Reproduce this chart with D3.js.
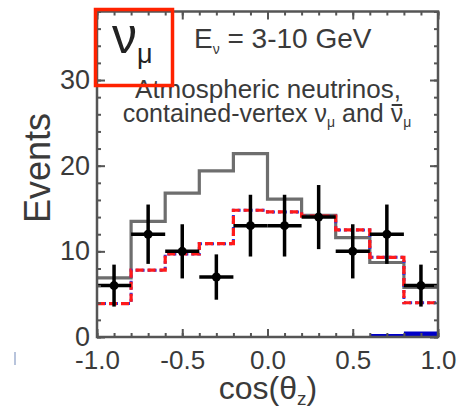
<!DOCTYPE html>
<html><head><meta charset="utf-8">
<script src="https://cdn.jsdelivr.net/npm/d3@7"></script>
<style>
html,body{margin:0;padding:0;background:#fff;}
svg{display:block;font-family:"Liberation Sans",Arial,sans-serif;}
</style></head>
<body>
<svg id="c" width="469" height="408"></svg>
<script>
// ---- data ----
const binEdges = [-1.0,-0.8,-0.6,-0.4,-0.2,0.0,0.2,0.4,0.6,0.8,1.0];
const noOsc   = [6.9,13.5,16.8,19.4,21.4,16.1,14.2,11.6,8.7,5.8];   // grey
const oscRed  = [3.9,7.8,9.7,10.9,14.8,14.6,14.1,12.5,9.3,4.0];     // red dashed
const oscBlue = [3.9,7.8,9.7,10.9,14.8,14.6,14.1,12.5,9.3,4.0];     // blue dotted
const background = [0,0,0,0,0,0,0.1,0.1,0.35,0.65];                // blue fill
const dataCounts = [6,12,10,7,13,13,14,10,12,6];
const xTickValues = [-1.0,-0.5,0.0,0.5,1.0];
const xTickLabels = ["-1.0","-0.5","0.0","0.5","1.0"];
const yTickValues = [0,10,20,30];
const yTickLabels = ["0","10","20","30"];

const svg = d3.select("#c");
const x = d3.scaleLinear().domain([-1,1]).range([97,438]);
const y = d3.scaleLinear().domain([0,38]).range([337,11.5]);
const txt = "#3a3a3a";
const frameCol = "#555";

const centers = binEdges.slice(0,-1).map((e,i)=>(e+binEdges[i+1])/2);
function stepPts(vals){ const p = vals.map((v,i)=>[binEdges[i],v]); p.push([binEdges[binEdges.length-1],vals[vals.length-1]]); return p; }
const step = d3.line().x(d=>x(d[0])).y(d=>y(d[1])).curve(d3.curveStepAfter);

// background area
const area = d3.area().x(d=>x(d[0])).y0(y(0)).y1(d=>y(d[1])).curve(d3.curveStepAfter);
svg.append("path").attr("d",area(stepPts(background))).attr("fill","#0000c8");

// grey histogram
svg.append("path").attr("d",step(stepPts(noOsc))).attr("fill","none")
  .attr("stroke","#6e6e6e").attr("stroke-width",3.2);
// blue
svg.append("path").attr("d",step(stepPts(oscBlue))).attr("fill","none")
  .attr("stroke","#3030e0").attr("stroke-width",3).attr("stroke-dasharray","3,3");
// red dashed
svg.append("path").attr("d",step(stepPts(oscRed))).attr("fill","none")
  .attr("stroke","#ff1a1a").attr("stroke-width",3.2).attr("stroke-dasharray","8,4");

// data points
const g = svg.append("g");
dataCounts.forEach((n,i)=>{
  const e = Math.sqrt(n);
  g.append("line").attr("x1",x(binEdges[i])).attr("x2",x(binEdges[i+1]))
    .attr("y1",y(n)).attr("y2",y(n)).attr("stroke","#000").attr("stroke-width",3.5);
  g.append("line").attr("x1",x(centers[i])).attr("x2",x(centers[i]))
    .attr("y1",y(n-e)).attr("y2",y(n+e)).attr("stroke","#000").attr("stroke-width",3.5);
  g.append("circle").attr("cx",x(centers[i])).attr("cy",y(n)).attr("r",4.5).attr("fill","#000");
});

// axes (inward ticks)
function styleAxis(sel){
  sel.select(".domain").remove();
  sel.selectAll(".tick line").attr("stroke",frameCol).attr("stroke-width",2);
  sel.selectAll(".tick text").attr("fill",txt).style("font-family","'Liberation Sans',Arial,sans-serif");
}
const minorX = d3.range(-1,1.0001,0.1).map(v=>Math.round(v*10)/10);
const minorY = d3.range(0,38.0001,2);

svg.append("g").attr("transform",`translate(0,${y(0)})`)
  .call(d3.axisBottom(x).tickValues(minorX).tickSize(-4).tickFormat("")).call(styleAxis);
svg.append("g").attr("transform",`translate(0,${y(0)})`)
  .call(d3.axisBottom(x).tickValues(xTickValues).tickSize(-8).tickPadding(14)
    .tickFormat((d,i)=>xTickLabels[i])).call(styleAxis)
  .selectAll("text").style("font-size","26px");
svg.append("g").attr("transform",`translate(0,${y(38)})`)
  .call(d3.axisTop(x).tickValues(minorX).tickSize(-4).tickFormat("")).call(styleAxis);
svg.append("g").attr("transform",`translate(0,${y(38)})`)
  .call(d3.axisTop(x).tickValues(xTickValues).tickSize(-8).tickFormat("")).call(styleAxis);

svg.append("g").attr("transform",`translate(${x(-1)},0)`)
  .call(d3.axisLeft(y).tickValues(minorY).tickSize(-4).tickFormat("")).call(styleAxis);
svg.append("g").attr("transform",`translate(${x(-1)},0)`)
  .call(d3.axisLeft(y).tickValues(yTickValues).tickSize(-8).tickPadding(7)
    .tickFormat((d,i)=>yTickLabels[i])).call(styleAxis)
  .selectAll("text").style("font-size","27px");
svg.append("g").attr("transform",`translate(${x(1)},0)`)
  .call(d3.axisRight(y).tickValues(minorY).tickSize(-4).tickFormat("")).call(styleAxis);
svg.append("g").attr("transform",`translate(${x(1)},0)`)
  .call(d3.axisRight(y).tickValues(yTickValues).tickSize(-8).tickFormat("")).call(styleAxis);

// frame
svg.append("rect").attr("x",x(-1)).attr("y",y(38)).attr("width",x(1)-x(-1)).attr("height",y(0)-y(38))
  .attr("fill","none").attr("stroke",frameCol).attr("stroke-width",2.5);

// axis titles
svg.append("text").attr("transform","translate(50,168) rotate(-90)").attr("text-anchor","middle")
  .attr("fill",txt).style("font-size","36px").text("Events");
const xt = svg.append("text").attr("x",268).attr("y",399).attr("text-anchor","middle")
  .attr("fill",txt).style("font-size","32px");
xt.append("tspan").text("cos(θ");
xt.append("tspan").attr("dy",6).style("font-size","19px").text("z");
xt.append("tspan").attr("dy",-6).text(")");

// title nu_mu
const t1 = svg.append("text").attr("x",112).attr("y",53).attr("fill","#222").style("font-size","50px");
t1.append("tspan").text("ν");
t1.append("tspan").attr("dy",10).style("font-size","27px").text("μ");

// energy label
const t2 = svg.append("text").attr("x",194).attr("y",48).attr("fill",txt).style("font-size","28px");
t2.append("tspan").text("E");
t2.append("tspan").attr("dy",6).style("font-size","14px").text("ν");
t2.append("tspan").attr("dy",-6).text(" = 3-10 GeV");

// description
svg.append("text").attr("x",268).attr("y",98).attr("text-anchor","middle").attr("fill",txt)
  .style("font-size","26px").text("Atmospheric neutrinos,");
const t3 = svg.append("text").attr("x",267).attr("y",122).attr("text-anchor","middle").attr("fill",txt)
  .style("font-size","25px");
t3.append("tspan").text("contained-vertex ν");
t3.append("tspan").attr("dy",5).style("font-size","14px").text("μ");
t3.append("tspan").attr("dy",-5).text(" and ");
t3.append("tspan").text("ν");
t3.append("tspan").attr("dy",5).style("font-size","14px").text("μ");
// overline on the antineutrino
{
  const node = t3.node();
  const full = "contained-vertex νμ and ν";
  const idx = full.length - 1;
  const s = node.getStartPositionOfChar(idx), e = node.getEndPositionOfChar(idx);
  svg.append("line").attr("x1",s.x+1).attr("x2",e.x-1).attr("y1",105).attr("y2",105)
    .attr("stroke",txt).attr("stroke-width",2);
}

// red highlight box
svg.append("rect").attr("x",95.5).attr("y",9.5).attr("width",77).attr("height",76)
  .attr("fill","none").attr("stroke","#ff2200").attr("stroke-width",3.5);

// faint scan mark
svg.append("rect").attr("x",14).attr("y",352).attr("width",2).attr("height",13).attr("fill","#b8c4dc");
</script>
</body></html>
